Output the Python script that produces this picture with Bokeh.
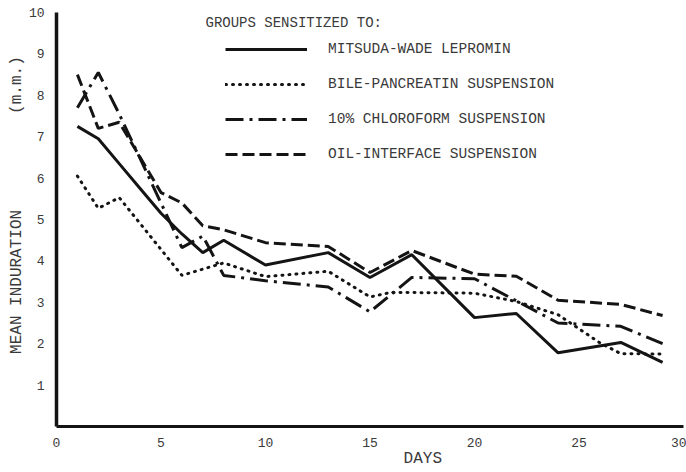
from bokeh.plotting import figure
from bokeh.models import Range1d, FixedTicker, Legend, LegendItem, Label
from bokeh.embed import file_html
from bokeh.resources import INLINE

# ---- data ----
days_mitsuda = [1, 2, 3, 4, 5, 6, 7, 8, 10, 13, 15, 17, 20, 22, 24, 27, 29]
ind_mitsuda = [7.25, 6.95, 6.35, 5.75, 5.15, 4.65, 4.2, 4.5, 3.9, 4.2, 3.6, 4.15, 2.63, 2.73, 1.78, 2.03, 1.55]

days_bile = [1, 2, 3, 6, 8, 10, 13, 15, 16, 20, 22, 24, 26, 27, 29]
ind_bile = [6.05, 5.27, 5.53, 3.65, 3.95, 3.62, 3.75, 3.13, 3.24, 3.22, 3.02, 2.7, 2.02, 1.76, 1.75]

days_chloro = [1, 2, 3, 6, 7, 8, 10, 13, 15, 17, 20, 24, 27, 29]
ind_chloro = [7.7, 8.55, 7.55, 4.32, 4.6, 3.65, 3.52, 3.37, 2.77, 3.6, 3.57, 2.5, 2.42, 2.0]

days_oil = [1, 2, 3, 5, 6, 7, 8, 10, 13, 15, 17, 20, 22, 24, 27, 29]
ind_oil = [8.5, 7.2, 7.35, 5.65, 5.4, 4.85, 4.75, 4.44, 4.35, 3.72, 4.25, 3.68, 3.63, 3.05, 2.95, 2.68]

series_names = ["MITSUDA-WADE LEPROMIN", "BILE-PANCREATIN SUSPENSION",
                "10% CHLOROFORM SUSPENSION", "OIL-INTERFACE SUSPENSION"]
legend_title = "GROUPS SENSITIZED TO:"
x_title = "DAYS"
y_title = "MEAN INDURATION"
y_unit = "(m.m.)"
x_ticks = [0, 5, 10, 15, 20, 25, 30]
y_ticks = [1, 2, 3, 4, 5, 6, 7, 8, 9, 10]

FONT = "Liberation Mono"
TXT = "#3a3a3a"
INK = "#141414"
NB = "\u00a0"

p = figure(width=686, height=472, output_backend="svg", toolbar_location=None,
           x_range=Range1d(0, 30), y_range=Range1d(0, 10),
           min_border_left=56, min_border_right=3, min_border_top=12, min_border_bottom=46)
p.outline_line_color = None
p.xgrid.grid_line_color = None
p.ygrid.grid_line_color = None
p.background_fill_color = "white"

for ax in (p.xaxis[0], p.yaxis[0]):
    ax.axis_line_color = INK
    ax.major_tick_line_color = None
    ax.minor_tick_line_color = None
    ax.major_label_text_font = FONT
    ax.major_label_text_font_size = "13px"
    ax.major_label_text_color = TXT
    ax.axis_label_text_font = FONT
    ax.axis_label_text_font_size = "16px"
    ax.axis_label_text_font_style = "normal"
    ax.axis_label_text_color = TXT
    ax.axis_label_standoff = 0
p.xaxis[0].axis_line_width = 3
p.yaxis[0].axis_line_width = 3.5
p.xaxis[0].ticker = FixedTicker(ticks=x_ticks)
p.yaxis[0].ticker = FixedTicker(ticks=y_ticks)
p.xaxis[0].major_label_standoff = 5
p.yaxis[0].major_label_standoff = 6
# labels are offset from the frame centre, as in the original typed figure
p.xaxis[0].axis_label = NB * 11 + x_title
p.yaxis[0].axis_label = NB * 3 + y_title + NB * 10 + y_unit

r1 = p.line(days_mitsuda, ind_mitsuda, line_color=INK, line_width=3)
r2 = p.line(days_bile, ind_bile, line_color=INK, line_width=3, line_dash="1 6", line_cap="round")
r3 = p.line(days_chloro, ind_chloro, line_color=INK, line_width=3, line_dash="18 6 3 6")
r4 = p.line(days_oil, ind_oil, line_color=INK, line_width=3, line_dash="12 5")

legend = Legend(items=[LegendItem(label=series_names[0], renderers=[r1]),
                       LegendItem(label=series_names[1], renderers=[r2]),
                       LegendItem(label=series_names[2], renderers=[r3]),
                       LegendItem(label=series_names[3], renderers=[r4])],
                location=(169, 262), glyph_width=82, glyph_height=20, label_height=20,
                label_standoff=21, spacing=15, padding=0, margin=0,
                border_line_color=None, background_fill_alpha=0,
                label_text_font=FONT, label_text_font_size="14.5px", label_text_color=TXT)
p.add_layout(legend)

# Label screen units are measured from the plot frame's bottom-left corner
p.add_layout(Label(x=149, y=404, x_units="screen", y_units="screen", text=legend_title,
                   text_font=FONT, text_font_size="14px", text_color=TXT, text_baseline="middle"))

open("out.html", "w").write(file_html(p, INLINE))
